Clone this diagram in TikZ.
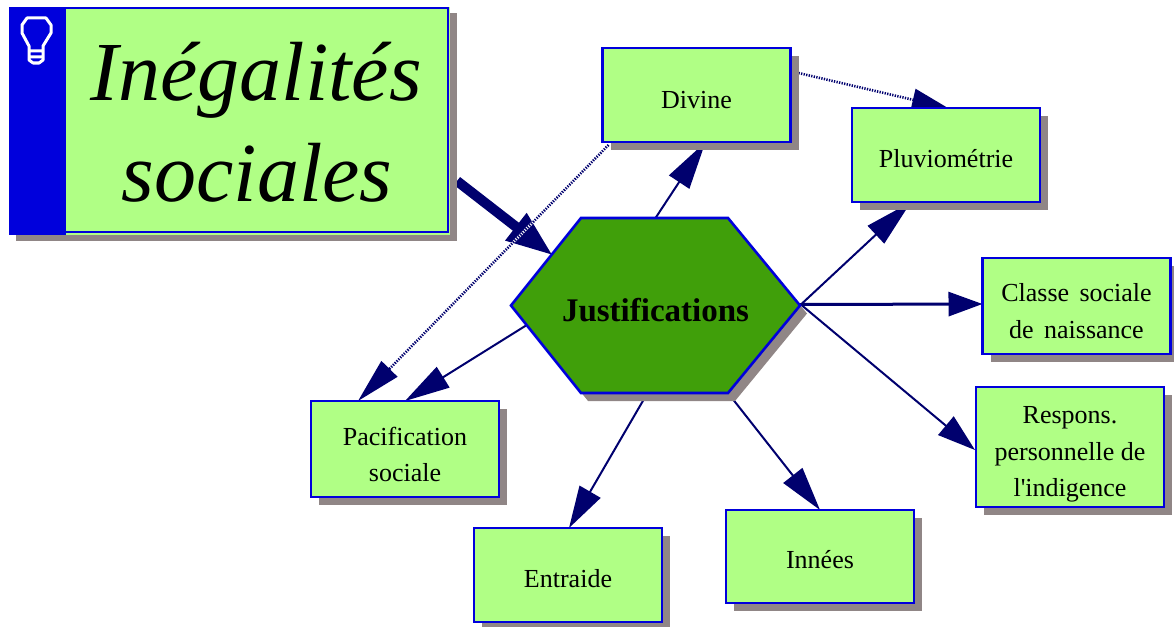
\documentclass[tikz,border=0pt]{standalone}
\usepackage{fontspec}
\setmainfont{Liberation Serif}[Ligatures=TeXOff]
\usetikzlibrary{arrows.meta,calc,shadows,backgrounds}
\definecolor{boxgreen}{HTML}{B0FF85}
\definecolor{hexgreen}{HTML}{409F0A}
\definecolor{edgeblue}{HTML}{0000DC}
\definecolor{shadowgrey}{HTML}{908686}
\definecolor{navy}{HTML}{00006E}
\newcommand{\dropby}[2]{\vbox{\kern#1\hbox{\begin{tabular}{@{}c@{}}#2\end{tabular}}}}
\pgfdeclarelayer{edges}
\pgfdeclarelayer{hexback}
\pgfsetlayers{edges,hexback,main}
\tikzset{
  topic/.style={draw=edgeblue,fill=boxgreen,line width=2.4pt,outer sep=0pt,inner sep=0pt,
    minimum width=#1,
    font=\fontsize{26}{36.5}\selectfont,
    general shadow={shadow xshift=8pt,shadow yshift=-8pt,fill=shadowgrey}},
  link/.style={draw=navy,line width=2pt,-{Triangle[length=#1,width=24pt]}},
  link/.default=48pt,
  dotlink/.style={draw=navy,line width=2.6pt,dash pattern=on 1.3pt off 1.3pt,-{Triangle[length=#1,width=22pt]}},
  dotback/.style={draw=white,line width=2.6pt},
  hexface/.style={fill=hexgreen,draw=edgeblue,line width=2.6pt,line join=miter},
}
\begin{document}
\begin{tikzpicture}[x=1pt,y=-1pt]
\useasboundingbox (0,0) rectangle (1174,626);
% title box
\node[minimum width=441pt,minimum height=228pt,fill=boxgreen,outer sep=0pt,inner sep=0pt,
  general shadow={shadow xshift=7pt,shadow yshift=-6pt,fill=shadowgrey},
  font=\fontsize{84}{101}\selectfont\itshape] (title) at (229.5,121) {\dropby{20pt}{\hspace*{53pt}Inégalités\\\hspace*{55pt}sociales}};
\fill[edgeblue] (title.north west) rectangle ($(title.south west)+(57,0)$);
\draw[edgeblue,line width=2pt] ($(title.north west)+(57,1)$) -- ($(title.north east)+(-2,1)$) -- ($(title.south east)+(-2,-3)$) -- ($(title.south west)+(57,-3)$);
\draw[white,line width=3pt,line join=round] (27,18) -- (46,18) -- (51,25) -- (51,33) -- (43,46) -- (43,60) -- (39,63) -- (33,63) -- (29,60) -- (29,46) -- (22,33) -- (22,25) -- cycle
  (29,51) -- (43,51) (29,57) -- (43,57);
% nodes
\node[topic=188pt,minimum height=94pt] (divine) at (696.5,95) {\dropby{12pt}{Divine}};
\node[topic=188pt,minimum height=94pt] (pluvio) at (946,155) {\dropby{10pt}{Pluviométrie}};
\node[topic=188pt,minimum height=96pt] (classe) at (1076.5,306) {\dropby{13pt}{Classe\hspace{.4em}sociale\\de\hspace{.4em}naissance}};
\node[topic=188pt,minimum height=120pt] (respons) at (1070,447) {\vbox to 116pt{\vskip 9pt\hbox{\begin{tabular}{@{}c@{}}Respons.\\personnelle de\\l'indigence\end{tabular}}\vss}};
\node[topic=188pt,minimum height=96pt] (pacif) at (405,449) {\dropby{14pt}{Pacification\\sociale}};
\node[topic=188pt,minimum height=94pt] (entraide) at (568,575) {\dropby{10pt}{Entraide}};
\node[topic=188pt,minimum height=93pt] (innees) at (820,556.5) {\dropby{10pt}{Innées}};
\node[minimum width=289pt,minimum height=175pt,outer sep=0pt,inner sep=0pt,font=\fontsize{33}{38}\selectfont\bfseries] (hex) at (655.5,305.5) {\dropby{16pt}{Justifications}};
\begin{pgfonlayer}{hexback}
\fill[shadowgrey,transform canvas={shift={(7,8)}}] (hex.west) -- ($(hex.north west)+(70,0)$) -- ($(hex.north east)+(-72,0)$) -- (hex.east) -- ($(hex.south east)+(-72,0)$) -- ($(hex.south west)+(70,0)$) -- cycle;
\path[hexface] (hex.west) -- ($(hex.north west)+(70,0)$) -- ($(hex.north east)+(-72,0)$) -- (hex.east) -- ($(hex.south east)+(-72,0)$) -- ($(hex.south west)+(70,0)$) -- cycle;
\end{pgfonlayer}
% connectors
\begin{pgfonlayer}{edges}
\draw[draw=navy,line width=10pt,-{Triangle[length=47pt,width=32pt]}] ($(title.east)+(7,60)$) -- ($(hex.west)+(42,-50)$);
\draw[link] (hex.north) -- ($(divine.south)+(9,0)$);
\draw[link] ($(hex.east)+(2,-2)$) -- ($(pluvio.south)+(-35,0)$);
\draw[link=34pt,line width=3pt] ($(hex.east)+(0,-1)$) -- ($(classe.west)+(0,-2)$);
\draw[link=38pt] ($(hex.east)+(2,0)$) -- ($(respons.west)+(-1,3)$);
\draw[link=45pt] ($(hex.west)+(15,20)$) -- (pacif.north);
\draw[link=42pt] ($(hex.south)+(-8,0)$) -- ($(entraide.north)+(1,0)$);
\draw[link=44pt] ($(hex.south east)+(-72,0)$) -- (innees.north);
\path[dotback] ($(divine.south west)+(6,3)$) -- ($(pacif.north)+(-47,0)$);
\draw[dotlink=45pt] ($(divine.south west)+(6,3)$) -- ($(pacif.north)+(-47,0)$);
\draw[dotlink=36pt] ($(divine.north east)+(8,25)$) -- ($(pluvio.north)+(2,0)$);
\end{pgfonlayer}
\end{tikzpicture}
\end{document}
